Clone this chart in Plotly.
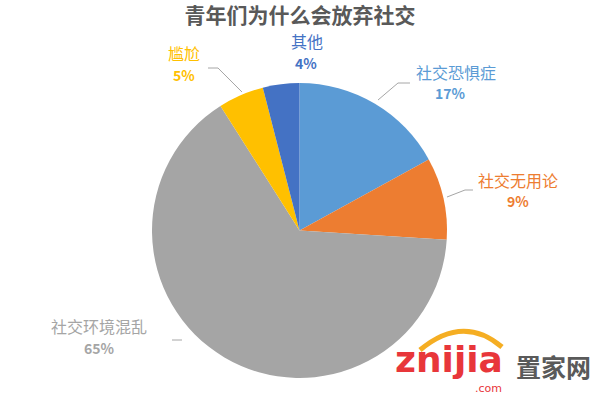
import plotly.graph_objects as go

labels = ["社交恐惧症", "社交无用论", "社交环境混乱", "尴尬", "其他"]
values = [17, 9, 65, 5, 4]
pct_text = ["17%", "9%", "65%", "5%", "4%"]
colors = ["#5B9BD5", "#ED7D31", "#A5A5A5", "#FFC000", "#4472C4"]

W, H = 600, 400
def px(x): return x / W
def py(y): return 1 - y / H

fig = go.Figure(go.Pie(
    labels=labels, values=values, sort=False, direction="clockwise", rotation=0,
    marker=dict(colors=colors, line=dict(width=0)),
    textinfo="none", hoverinfo="label+percent", showlegend=False,
    domain=dict(x=[px(152), px(447)], y=[py(378), py(83)]),
))

# label positions (paper px) for each slice: label x,y ; percent x,y
label_pos = [(456, 72, 450, 93), (518, 180, 518, 201), (99, 326, 99, 348), (184, 53, 184, 75), (307, 41, 306, 63)]
anns = []
for lab, pt, col, (lx, ly, tx, ty) in zip(labels, pct_text, colors, label_pos):
    anns.append(dict(x=px(lx), y=py(ly), xref="paper", yref="paper", text=lab, showarrow=False,
                     font=dict(family="Noto Sans CJK SC", size=16, color=col), xanchor="center", yanchor="middle"))
    anns.append(dict(x=px(tx), y=py(ty), xref="paper", yref="paper", text="<b>" + pt + "</b>", showarrow=False,
                     font=dict(family="Noto Sans CJK SC", size=14, color=col), xanchor="center", yanchor="middle"))

# watermark
anns.append(dict(x=px(449), y=py(359), xref="paper", yref="paper", text="<b>znijia</b>", showarrow=False,
                 font=dict(family="DejaVu Sans", size=36, color="#E8363A"), xanchor="center", yanchor="middle"))
anns.append(dict(x=px(553), y=py(366), xref="paper", yref="paper", text="<b>置家网</b>", showarrow=False,
                 font=dict(family="Noto Sans CJK SC", size=25, color="#5A5A5A"), xanchor="center", yanchor="middle"))
anns.append(dict(x=px(489), y=py(388), xref="paper", yref="paper", text=".com", showarrow=False,
                 font=dict(family="DejaVu Sans", size=11, color="#E8363A"), xanchor="center", yanchor="middle"))

line_col = "#A6A6A6"
leader_paths = [
    [(208, 68), (218, 68), (242, 92)],
    [(473, 190), (465, 190), (447, 197)],
    [(172, 340), (182, 340)],
    [(410, 83), (398, 83), (378, 100)],
]
shapes_paper = []
for coords in leader_paths:
    d = "M " + " L ".join(f"{px(x):.5f},{py(y):.5f}" for x, y in coords)
    shapes_paper.append(dict(type="path", path=d, xref="paper", yref="paper",
                             line=dict(color=line_col, width=1)))
# watermark arc
shapes_paper.append(dict(type="path", path=f"M {px(420):.5f},{py(350):.5f} Q {px(463):.5f},{py(314):.5f} {px(502):.5f},{py(347):.5f}",
                         xref="paper", yref="paper", line=dict(color="#F5AE23", width=5)))

fig.update_layout(
    width=W, height=H, margin=dict(l=0, r=0, t=0, b=0),
    paper_bgcolor="white", plot_bgcolor="white",
    title=dict(text="<b>青年们为什么会放弃社交</b>", x=0.5, y=py(16), xanchor="center", yanchor="middle",
               font=dict(family="Noto Sans CJK SC", size=21, color="#595959")),
    annotations=anns, shapes=shapes_paper,
    xaxis=dict(visible=False), yaxis=dict(visible=False),
)
fig.write_html("out.html", config={"displayModeBar": False},
               post_script="document.body.style.margin='0';")
